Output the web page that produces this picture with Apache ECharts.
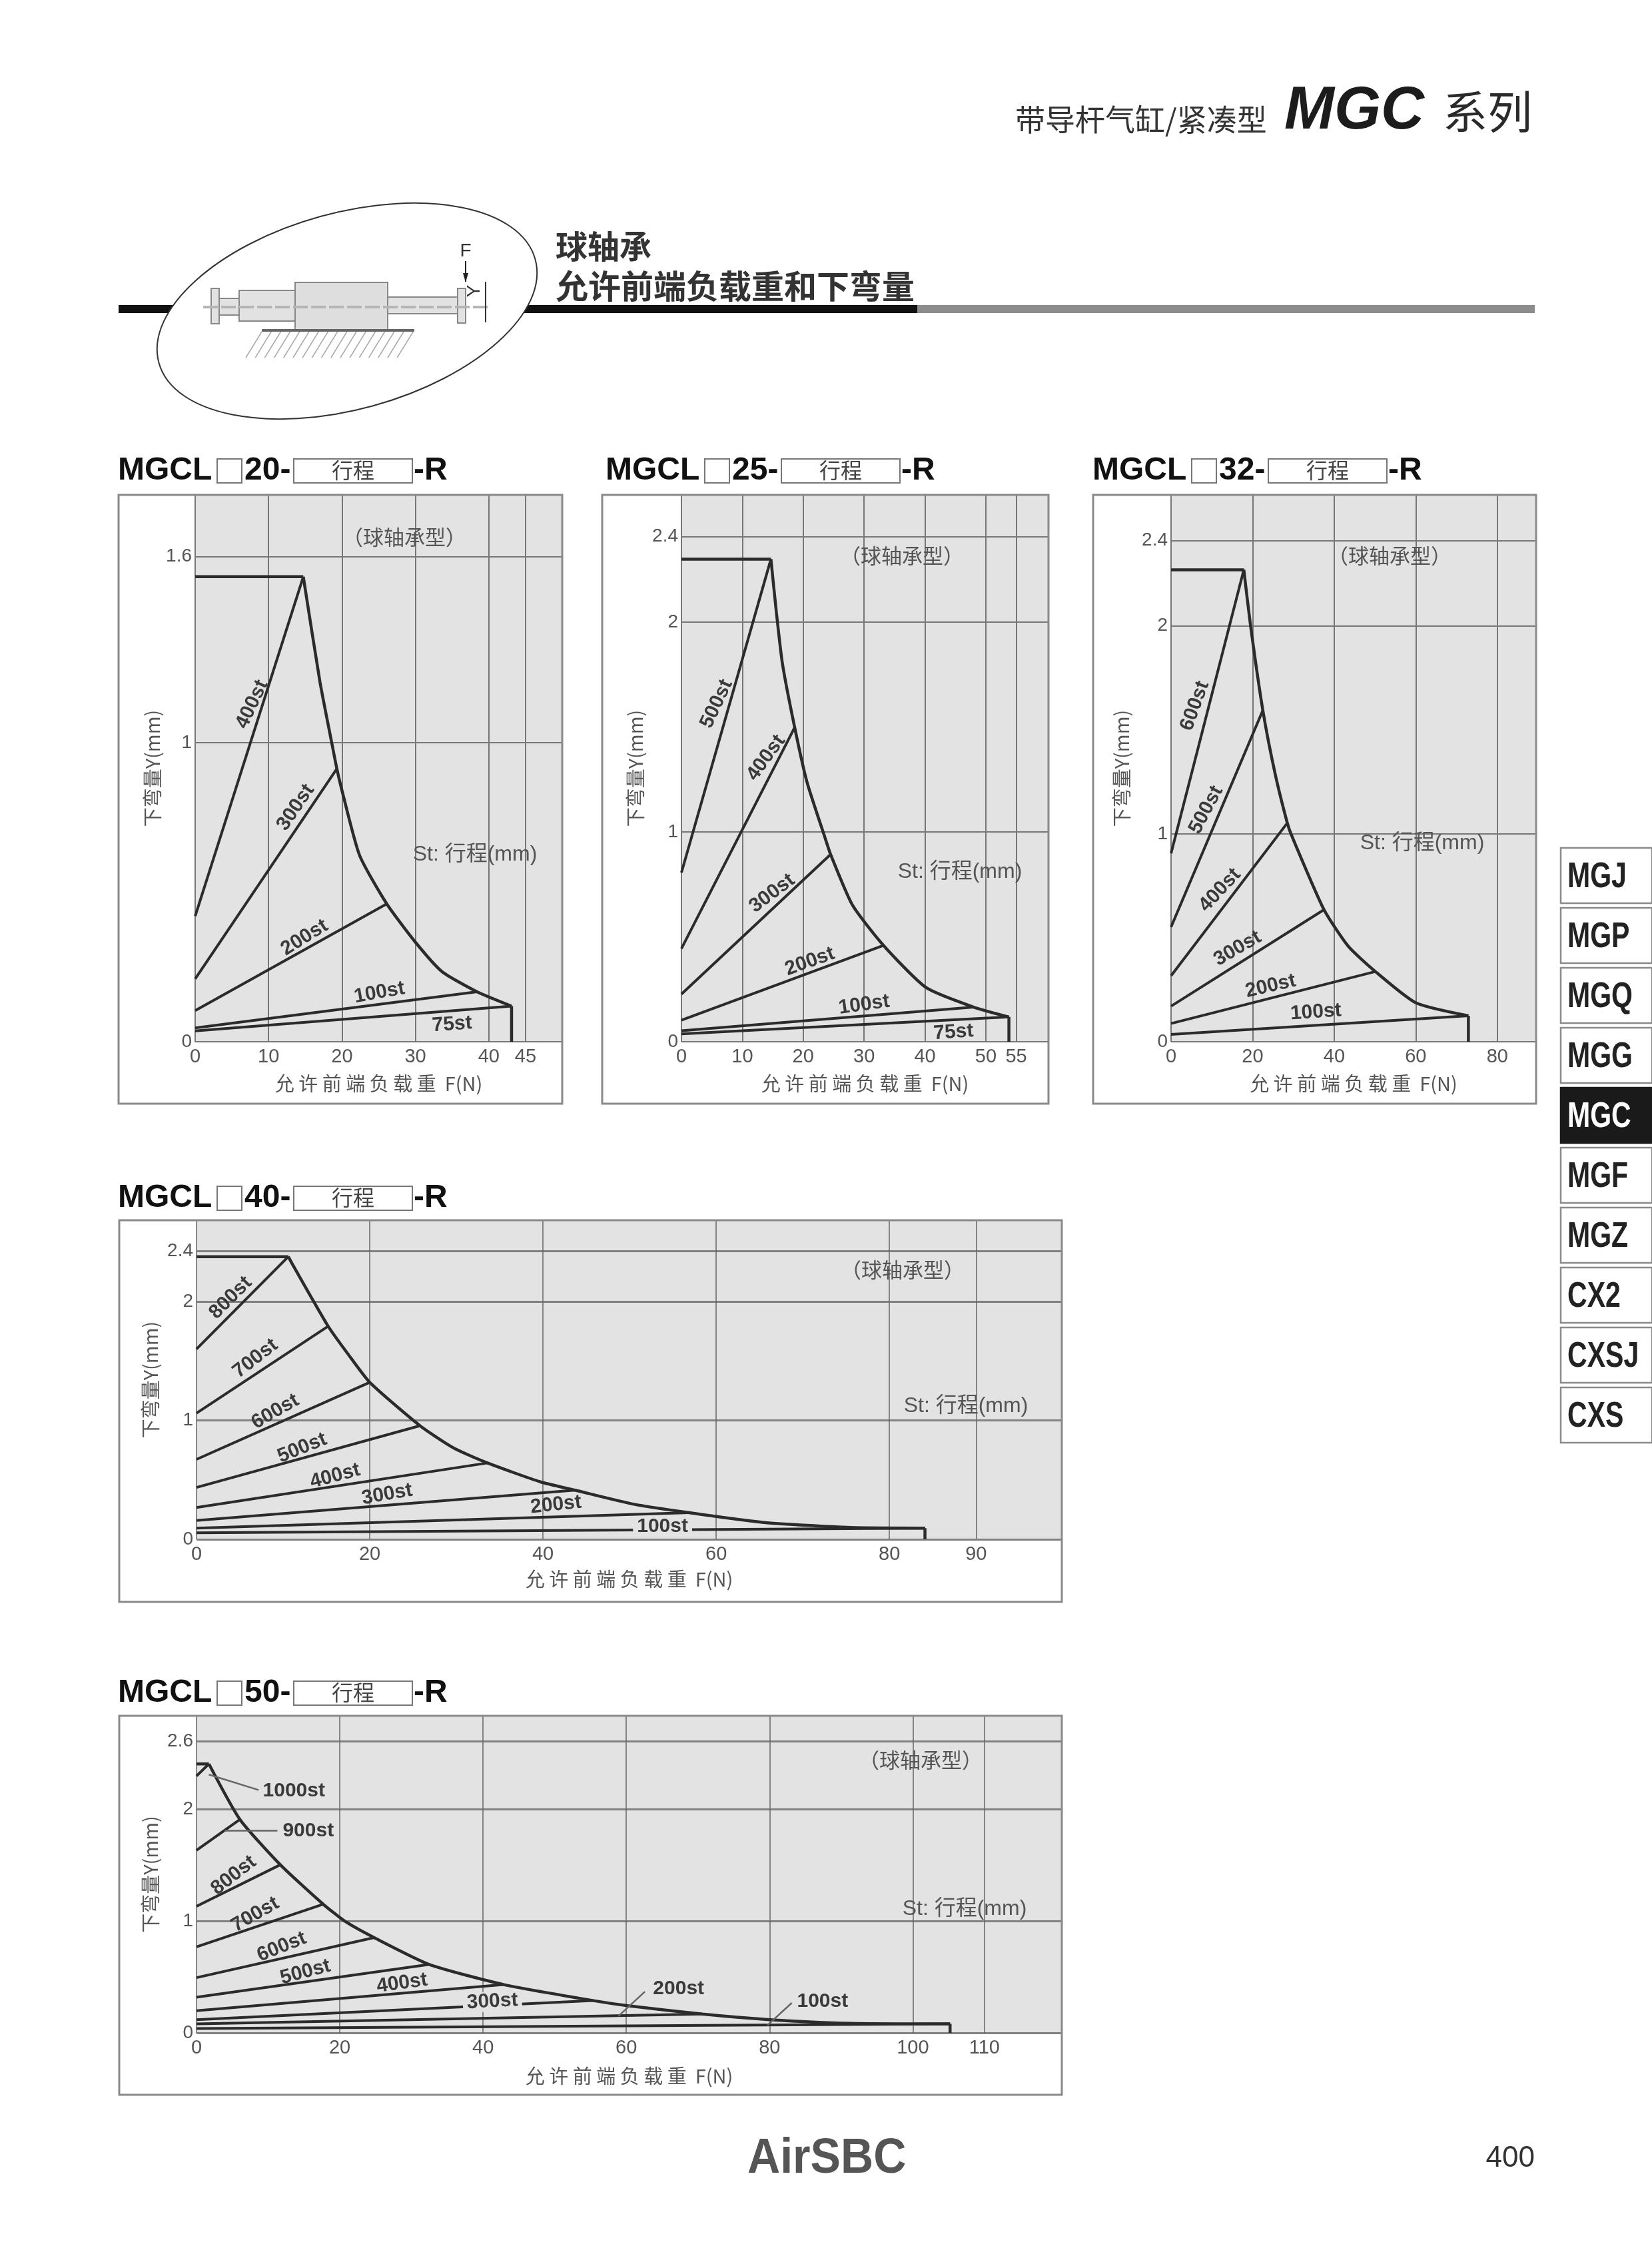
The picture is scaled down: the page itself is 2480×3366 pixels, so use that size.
<!DOCTYPE html>
<html><head><meta charset="utf-8">
<script src="https://cdn.jsdelivr.net/npm/echarts@6/dist/echarts.min.js"></script>
<style>html,body{margin:0;padding:0;background:#fff}#c{width:2480px;height:3366px}</style>
</head><body><div id="c"></div>
<script>
// ---------- DATA ----------
const modelBores = ['20','25','32','40','50'];
const xTickValues20 = [0,10,20,30,40,45];
const yTickValues20 = [0,1,1.623];
const yTickLabels20 = ['0','1','1.6'];
const xTickValues25 = [0,10,20,30,40,50,55];
const yTickValues25 = [0,1,2,2.407];
const yTickLabels25 = ['0','1','2','2.4'];
const xTickValues32 = [0,20,40,60,80];
const yTickValues32 = [0,1,2,2.41];
const yTickLabels32 = ['0','1','2','2.4'];
const xTickValues40 = [0,20,40,60,80,90];
const yTickValues40 = [0,1,2,2.425];
const yTickLabels40 = ['0','1','2','2.4'];
const xTickValues50 = [0,20,40,60,80,100,110];
const yTickValues50 = [0,1,2,2.608];
const yTickLabels50 = ['0','1','2','2.6'];

const flatTop20 = [[0,1.555],[14.73,1.555]];
const curve20 = [[14.73,1.555],[17.0,1.203],[18.6,1.0],[19.3,.913],[20,.84],[22.4,.623],[26.1,.461],[30,.333],[33.6,.235],[38.4,.167],[43.1,.119]];
const drop20 = [[43.1,.119],[43.1,0]];
const strokes20 = ['400st','300st','200st','100st','75st'];
const startY20 = [.42,.21,.104,.046,.036];
const endF20 = [14.73,19.3,26.1,38.4,43.1];
const endY20 = [1.555,.913,.461,.167,.119];

const flatTop25 = [[0,2.30],[14.7,2.30]];
const curve25 = [[14.7,2.30],[15.6,2.045],[16.6,1.80],[18.6,1.498],[20.6,1.24],[23.6,.971],[24.5,.893],[28.1,.651],[33.2,.459],[40.2,.258],[48,.165],[53.8,.118]];
const drop25 = [[53.8,.118],[53.8,0]];
const strokes25 = ['500st','400st','300st','200st','100st','75st'];
const startY25 = [.806,.444,.227,.103,.052,.037];
const endF25 = [14.7,18.6,24.5,33.2,48,53.8];
const endY25 = [2.30,1.498,.893,.459,.165,.118];

const flatTop32 = [[0,2.27],[17.84,2.27]];
const curve32 = [[17.84,2.27],[19.5,2.0],[22.5,1.594],[25.5,1.29],[28.5,1.052],[29.6,.99],[37.5,.635],[43.5,.458],[50.1,.3375],[60,.1875],[72.9,.125]];
const drop32 = [[72.9,.125],[72.9,0]];
const strokes32 = ['600st','500st','400st','300st','200st','100st'];
const startY32 = [.906,.552,.317,.171,.0875,.035];
const endF32 = [17.84,22.5,28.5,37.5,50.1,72.9];
const endY32 = [2.27,1.594,1.052,.635,.3375,.125];

const flatTop40 = [[0,2.377],[10.6,2.377]];
const curve40 = [[10.6,2.377],[11.1,2.31],[15.2,1.792],[17.5,1.557],[20,1.32],[25.8,.955],[29.7,.767],[33.6,.642],[39.7,.483],[43.7,.413],[50.5,.295],[56.9,.224],[65.5,.142],[75.5,.099],[84.1,.094]];
const drop40 = [[84.1,.094],[84.1,0]];
const strokes40 = ['800st','700st','600st','500st','400st','300st','200st','100st'];
const startY40 = [1.6,1.061,.672,.436,.267,.158,.094,.054];
const endF40 = [10.6,15.2,20,25.8,33.6,43.7,56.9,84.1];
const endY40 = [2.377,1.792,1.32,.955,.642,.413,.224,.094];

const flatTop50 = [[0,2.403],[1.73,2.403]];
const curve50 = [[1.73,2.403],[6.06,1.907],[11.7,1.502],[17.7,1.149],[20.8,.994],[24.8,.851],[32.5,.611],[42.9,.431],[55.4,.288],[60.2,.243],[70.6,.168],[80,.118],[91.3,.085],[105.2,.08]];
const drop50 = [[105.2,.08],[105.2,0]];
const strokes50 = ['1000st','900st','800st','700st','600st','500st','400st','300st','200st','100st'];
const startY50 = [2.295,1.632,1.131,.768,.493,.318,.198,.118,.08,.038];
const endF50 = [1.73,6.06,11.7,17.7,24.8,32.5,42.9,55.4,70.6,105.2];
const endY50 = [2.403,1.907,1.502,1.149,.851,.611,.431,.288,.168,.08];

const sideTabs = ['MGJ','MGP','MGQ','MGG','MGC','MGF','MGZ','CX2','CXSJ','CXS'];

// ---------- LAYOUT ----------
const FONT = '"Liberation Sans","Noto Sans CJK SC",sans-serif';
const CJK = '"Noto Sans CJK SC","Liberation Sans",sans-serif';
const INK = '#2b2b2b', TXT = '#555';
// stroke label placement: text centre in chart units + rotation
const place20 = [[7.76,1.128,65],[13.7,.783,56],[14.9,.348,32],[25.1,.164,10],[35,.058,4]];
const place25 = [[5.78,1.61,65],[13.9,1.353,54],[14.9,.707,37],[21.1,.382,20],[30,.176,8],[44.7,.045,4]];
const place32 = [[5.85,1.615,70],[8.6,1.115,62],[12,.729,47],[16.3,.448,30],[24.4,.267,13],[35.5,.142,4]];
const place40 = [[3.94,2.03,45],[6.8,1.52,38],[9.1,1.073,30],[12.2,.767,22],[16,.531,15],[22,.377,10],[41.5,.29,6],[53.8,.106,0]];
const place50 = [[13.6,2.165,0],[15.6,1.807,0],[5.2,1.407,38],[8.2,1.056,30],[11.9,.768,22],[15.2,.543,15],[28.7,.443,8],[41.3,.28,3],[67.3,.393,0],[87.4,.28,0]];
const leaders50 = [[[1.73,2.308],[8.66,2.17]],[[3.9,1.807],[11.3,1.807]],[[58.9,.15],[62.6,.368]],[[79.7,.068],[83.1,.268]]];
const masked40 = ['100st'], masked50 = ['300st'];

const charts = [
 {box:[293,743,844,1564], xMax:50.0, yMax:1.8285, xT:xTickValues20, yT:yTickValues20, yL:yTickLabels20, flat:flatTop20, curve:curve20, drop:drop20, names:strokes20, s:startY20, ef:endF20, ey:endY20, place:place20, hw:2, vw:2, hc:'#777', vc:'#777', gapX:48, gapY:50, masked:[]},
 {box:[1023,743,1574,1564], xMax:60.3, yMax:2.606, xT:xTickValues25, yT:yTickValues25, yL:yTickLabels25, flat:flatTop25, curve:curve25, drop:drop25, names:strokes25, s:startY25, ef:endF25, ey:endY25, place:place25, hw:2, vw:2, hc:'#777', vc:'#777', gapX:48, gapY:55, masked:[]},
 {box:[1758,743,2306,1564], xMax:89.5, yMax:2.63, xT:xTickValues32, yT:yTickValues32, yL:yTickLabels32, flat:flatTop32, curve:curve32, drop:drop32, names:strokes32, s:startY32, ef:endF32, ey:endY32, place:place32, hw:2, vw:2, hc:'#777', vc:'#777', gapX:48, gapY:60, masked:[]},
 {box:[295,1832,1594,2311], xMax:99.9, yMax:2.683, xT:xTickValues40, yT:yTickValues40, yL:yTickLabels40, flat:flatTop40, curve:curve40, drop:drop40, names:strokes40, s:startY40, ef:endF40, ey:endY40, place:place40, hw:3, vw:1.5, hc:'#808080', vc:'#666', gapX:45, gapY:50, masked:masked40},
 {box:[295,2576,1594,3052], xMax:120.8, yMax:2.833, xT:xTickValues50, yT:yTickValues50, yL:yTickLabels50, flat:flatTop50, curve:curve50, drop:drop50, names:strokes50, s:startY50, ef:endF50, ey:endY50, place:place50, hw:3, vw:1.5, hc:'#808080', vc:'#666', gapX:50, gapY:50, masked:masked50, leaders:leaders50}
];

const grid=[], xAxis=[], yAxis=[], series=[];
charts.forEach((c,i)=>{
  const [l,t,r,b]=c.box;
  grid.push({left:l,top:t,width:r-l,height:b-t,show:true,backgroundColor:'#e3e3e3',borderWidth:0,containLabel:false});
  xAxis.push({type:'value',gridIndex:i,min:0,max:c.xMax,
    name:'允 许 前 端 负 载 重  F(N)',nameLocation:'middle',nameGap:c.gapX,
    nameTextStyle:{fontFamily:CJK,fontSize:29,color:TXT},
    axisLine:{show:false},axisTick:{show:false,customValues:c.xT},
    axisLabel:{customValues:c.xT,fontFamily:FONT,fontSize:29,color:TXT,margin:8,showMinLabel:true,showMaxLabel:true},
    splitLine:{show:true,lineStyle:{color:c.vc,width:c.vw}}});
  yAxis.push({type:'value',gridIndex:i,min:0,max:c.yMax,
    name:'下弯量Y(mm)',nameLocation:'middle',nameGap:c.gapY,
    nameTextStyle:{fontFamily:CJK,fontSize:29,color:TXT},
    axisLine:{show:false},axisTick:{show:false,customValues:c.yT},
    axisLabel:{customValues:c.yT,fontFamily:FONT,fontSize:28,color:TXT,margin:5,
      formatter:v=>{const k=c.yT.findIndex(t=>Math.abs(t-v)<1e-6);return k<0?'':c.yL[k];}},
    splitLine:{show:true,lineStyle:{color:c.hc,width:c.hw}}});
  const base={type:'line',xAxisIndex:i,yAxisIndex:i,symbol:'none',silent:true,animation:false,clip:false,z:3};
  series.push({...base,name:'flat'+i,data:c.flat,lineStyle:{color:INK,width:4.5}});
  series.push({...base,name:'curve'+i,data:c.curve,smooth:.2,lineStyle:{color:INK,width:4.5}});
  series.push({...base,name:'drop'+i,data:c.drop,lineStyle:{color:INK,width:4.5}});
  c.names.forEach((n,k)=>series.push({...base,name:n,data:[[0,c.s[k]],[c.ef[k],c.ey[k]]],lineStyle:{color:INK,width:4}}));
  (c.leaders||[]).forEach((d,k)=>series.push({...base,name:'leader'+k,data:d,lineStyle:{color:'#666',width:2.5}}));
  series.push({type:'scatter',xAxisIndex:i,yAxisIndex:i,silent:true,animation:false,symbolSize:1,itemStyle:{color:'transparent'},z:6,
    data:c.names.map((n,k)=>({value:[c.place[k][0],c.place[k][1]],
      label:{show:true,position:'inside',formatter:n,rotate:c.place[k][2],align:'center',verticalAlign:'middle',
        fontFamily:FONT,fontWeight:'bold',fontSize:30,color:'#3a3a3a',opacity:1,
        backgroundColor:c.masked.includes(n)?'#e3e3e3':'transparent',padding:c.masked.includes(n)?[0,6]:0}}))});
});

// ---------- PAGE FURNITURE ----------
const g=[];
const T=(text,x,y,o={})=>g.push({type:'text',x,y,z:o.z||10,rotation:o.rot||0,scaleX:o.sx||1,scaleY:o.sy||1,silent:true,
  style:{text,fill:o.c||TXT,font:`${o.st||'normal'} ${o.w||'normal'} ${o.s||28}px ${o.f||FONT}`,textAlign:o.a||'left',textVerticalAlign:'middle',textBaseline:'middle'}});
const R=(x,y,w,h,o={})=>g.push({type:'rect',z:o.z||5,silent:true,shape:{x,y,width:w,height:h},style:{fill:o.fill||'transparent',stroke:o.stroke||null,lineWidth:o.lw||0}});
const L=(x1,y1,x2,y2,c,w,o={})=>g.push({type:'line',z:o.z||7,silent:true,shape:{x1,y1,x2,y2},style:{stroke:c,lineWidth:w,lineDash:o.dash||null}});

// page header
T('带导杆气缸/紧凑型',1524,180,{s:45,f:CJK,c:'#333'});
T('MGC',1928,168,{s:90,w:'bold',st:'italic',c:'#1c1c1c'});
T('系列',2166,168,{s:67,f:CJK,c:'#2a2a2a'});

// section heading
R(178,458,1199,12,{fill:'#111',z:1});
R(1377,458,927,12,{fill:'#8c8c8c',z:1});
T('球轴承',834,370,{s:48,f:CJK,w:'bold',c:'#333'});
T('允许前端负载重和下弯量',834,429,{s:49,f:CJK,w:'bold',c:'#333'});
g.push({type:'ellipse',z:2,silent:true,x:521,y:467,rotation:15.4*Math.PI/180,shape:{cx:0,cy:0,rx:293,ry:147.5},style:{fill:'#fff',stroke:'#333',lineWidth:2}});

// cylinder sketch
const part={fill:'#e2e2e2',stroke:'#888',lw:2,z:4};
R(329,448,32,25,part); R(359,436,84,46,part); R(582,446,105,25,part);
R(317,433,12,53,part); R(687,433,12,52,part); R(443,424,139,72,{...part,fill:'#dedede'});
L(305,461,732,461,'#b5b5b5',4,{dash:[22,5],z:5});
L(393,496,622,496,'#666',4,{z:5});
for(let k=0;k<17;k++) L(393+k*14.2,498,369+k*14.2,537,'#aaa',1.5,{z:3});
T('F',699,377,{s:28,a:'center',c:'#333'});
L(699,392,699,423,'#222',2);
g.push({type:'polygon',z:7,silent:true,shape:{points:[[695,410],[703,410],[699,424]]},style:{fill:'#222'}});
T('Y',712,437,{s:28,a:'center',c:'#333',rot:Math.PI/2});
L(729,423,729,484,'#333',2);

// chart frames, headings, notes
const frames=[[178,743,666,914],[904,743,670,914],[1641,743,665,914],[179,1832,1415,573],[179,2576,1415,569]];
frames.forEach(f=>R(f[0],f[1],f[2],f[3],{stroke:'#8a8a8a',lw:3,z:8}));
const heads=[[177,707,modelBores[0]],[909,707,modelBores[1]],[1640,707,modelBores[2]],[177,1799,modelBores[3]],[177,2542,modelBores[4]]];
heads.forEach(h=>{
  const [x,y,b]=h;
  T('MGCL',x,y,{s:48,w:'bold',c:'#111'});
  R(x+149,y-18,37,36,{fill:'#fff',stroke:'#777',lw:2});
  T(b+'-',x+190,y,{s:48,w:'bold',c:'#111'});
  R(x+264,y-18,178,36,{fill:'#fff',stroke:'#777',lw:2});
  T('行程',x+353,y-1,{s:32,f:CJK,a:'center',c:'#444',z:11});
  T('-R',x+444,y,{s:48,w:'bold',c:'#111'});
});
const typeNotes=[[607,806],[1354,834],[2086,834],[1355,1906],[1382,2642]];
typeNotes.forEach(p=>T('（球轴承型）',p[0],p[1],{s:31,f:CJK,a:'center'}));
const stNotes=[[713,1283],[1441,1309],[2135,1266],[1450,2111],[1448,2866]];
stNotes.forEach(p=>T('St: 行程(mm)',p[0],p[1],{s:32,a:'center'}));

// side tabs
sideTabs.forEach((n,i)=>{
  const y=1273+i*90, on=n==='MGC';
  R(2343,y,137,83,{fill:on?'#1a1a1a':'#fff',stroke:on?'#1a1a1a':'#8a8a8a',lw:2.5});
  T(n,2353,y+44,{s:54,w:'bold',sx:.76,c:on?'#fff':'#222'});
});

// footer
T('AirSBC',1122,3242,{s:74,w:'bold',sx:.92,c:'#555'});
T('400',2304,3241,{s:44,a:'right',c:'#333'});

const chart=echarts.init(document.getElementById('c'),null,{renderer:'canvas',width:2480,height:3366,devicePixelRatio:1});
chart.setOption({animation:false,backgroundColor:'#fff',grid,xAxis,yAxis,series,graphic:{elements:g},legend:{show:false},tooltip:{show:false}});
</script>
</body></html>
